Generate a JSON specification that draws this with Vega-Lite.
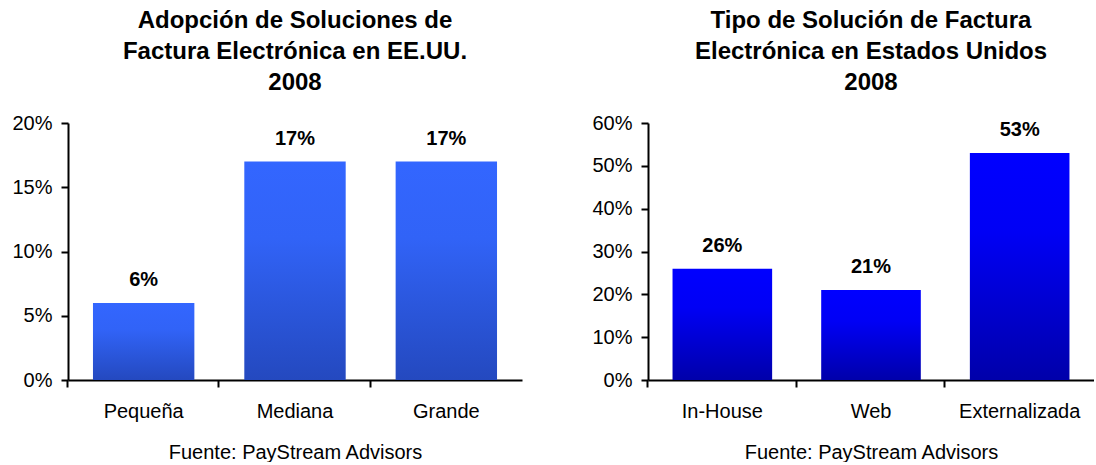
{
  "$schema": "https://vega.github.io/schema/vega-lite/v6.json",
  "padding": {"left": 11, "top": 9, "right": 0, "bottom": 0},
  "background": "white",
  "config": {
    "font": "Liberation Sans",
    "view": {"stroke": null},
    "axis": {
      "labelFont": "Liberation Sans",
      "titleFont": "Liberation Sans",
      "labelFontSize": 20,
      "titleFontSize": 20,
      "labelColor": "black",
      "titleColor": "black",
      "titleFontWeight": "normal",
      "domainColor": "black",
      "domainWidth": 2,
      "tickColor": "black",
      "tickWidth": 2,
      "tickSize": 7,
      "grid": false
    },
    "title": {
      "font": "Liberation Sans",
      "fontSize": 24,
      "fontWeight": "bold",
      "color": "black",
      "anchor": "middle",
      "lineHeight": 31,
      "offset": 18
    }
  },
  "datasets": {
    "adopcion": [
      {"tamano": "Pequeña", "valor": 0.06},
      {"tamano": "Mediana", "valor": 0.17},
      {"tamano": "Grande", "valor": 0.17}
    ],
    "tipo": [
      {"tipo": "In-House", "valor": 0.26},
      {"tipo": "Web", "valor": 0.21},
      {"tipo": "Externalizada", "valor": 0.53}
    ]
  },
  "hconcat": [
    {
      "width": 454,
      "height": 257,
      "title": {"text": ["Adopción de Soluciones de", "Factura Electrónica en EE.UU.", "2008"]},
      "data": {"name": "adopcion"},
      "encoding": {
        "x": {
          "field": "tamano", "type": "nominal", "sort": null,
          "scale": {"paddingInner": 0.33},
          "axis": {"title": "Fuente: PayStream Advisors", "labelAngle": 0, "labelPadding": 14, "titlePadding": 21, "bandPosition": -0.25}
        },
        "y": {
          "field": "valor", "type": "quantitative",
          "scale": {"domain": [0, 0.2], "nice": false},
          "axis": {"title": null, "values": [0, 0.05, 0.1, 0.15, 0.2], "format": ".0%", "labelPadding": 9}
        }
      },
      "layer": [
        {
          "mark": {
            "type": "bar",
            "color": {
              "gradient": "linear", "x1": 0, "y1": 0, "x2": 0, "y2": 1,
              "stops": [
                {"offset": 0, "color": "#3366ff"},
                {"offset": 0.35, "color": "#3163f7"},
                {"offset": 1, "color": "#2449bf"}
              ]
            }
          }
        },
        {
          "mark": {"type": "text", "dy": -23, "fontSize": 20, "fontWeight": "bold", "color": "black"},
          "encoding": {"text": {"field": "valor", "type": "quantitative", "format": ".0%"}}
        }
      ]
    },
    {
      "width": 446,
      "height": 257,
      "title": {"text": ["Tipo de Solución de Factura", "Electrónica en Estados Unidos", "2008"]},
      "data": {"name": "tipo"},
      "encoding": {
        "x": {
          "field": "tipo", "type": "nominal", "sort": null,
          "scale": {"paddingInner": 0.33},
          "axis": {"title": "Fuente: PayStream Advisors", "labelAngle": 0, "labelPadding": 14, "titlePadding": 21, "bandPosition": -0.25}
        },
        "y": {
          "field": "valor", "type": "quantitative",
          "scale": {"domain": [0, 0.6], "nice": false},
          "axis": {"title": null, "values": [0, 0.1, 0.2, 0.3, 0.4, 0.5, 0.6], "format": ".0%", "labelPadding": 9}
        }
      },
      "layer": [
        {
          "mark": {
            "type": "bar",
            "color": {
              "gradient": "linear", "x1": 0, "y1": 0, "x2": 0, "y2": 1,
              "stops": [
                {"offset": 0, "color": "#0000ff"},
                {"offset": 0.35, "color": "#0000f5"},
                {"offset": 1, "color": "#0000aa"}
              ]
            }
          }
        },
        {
          "mark": {"type": "text", "dy": -23, "fontSize": 20, "fontWeight": "bold", "color": "black"},
          "encoding": {"text": {"field": "valor", "type": "quantitative", "format": ".0%"}}
        }
      ]
    }
  ],
  "spacing": 69
}
